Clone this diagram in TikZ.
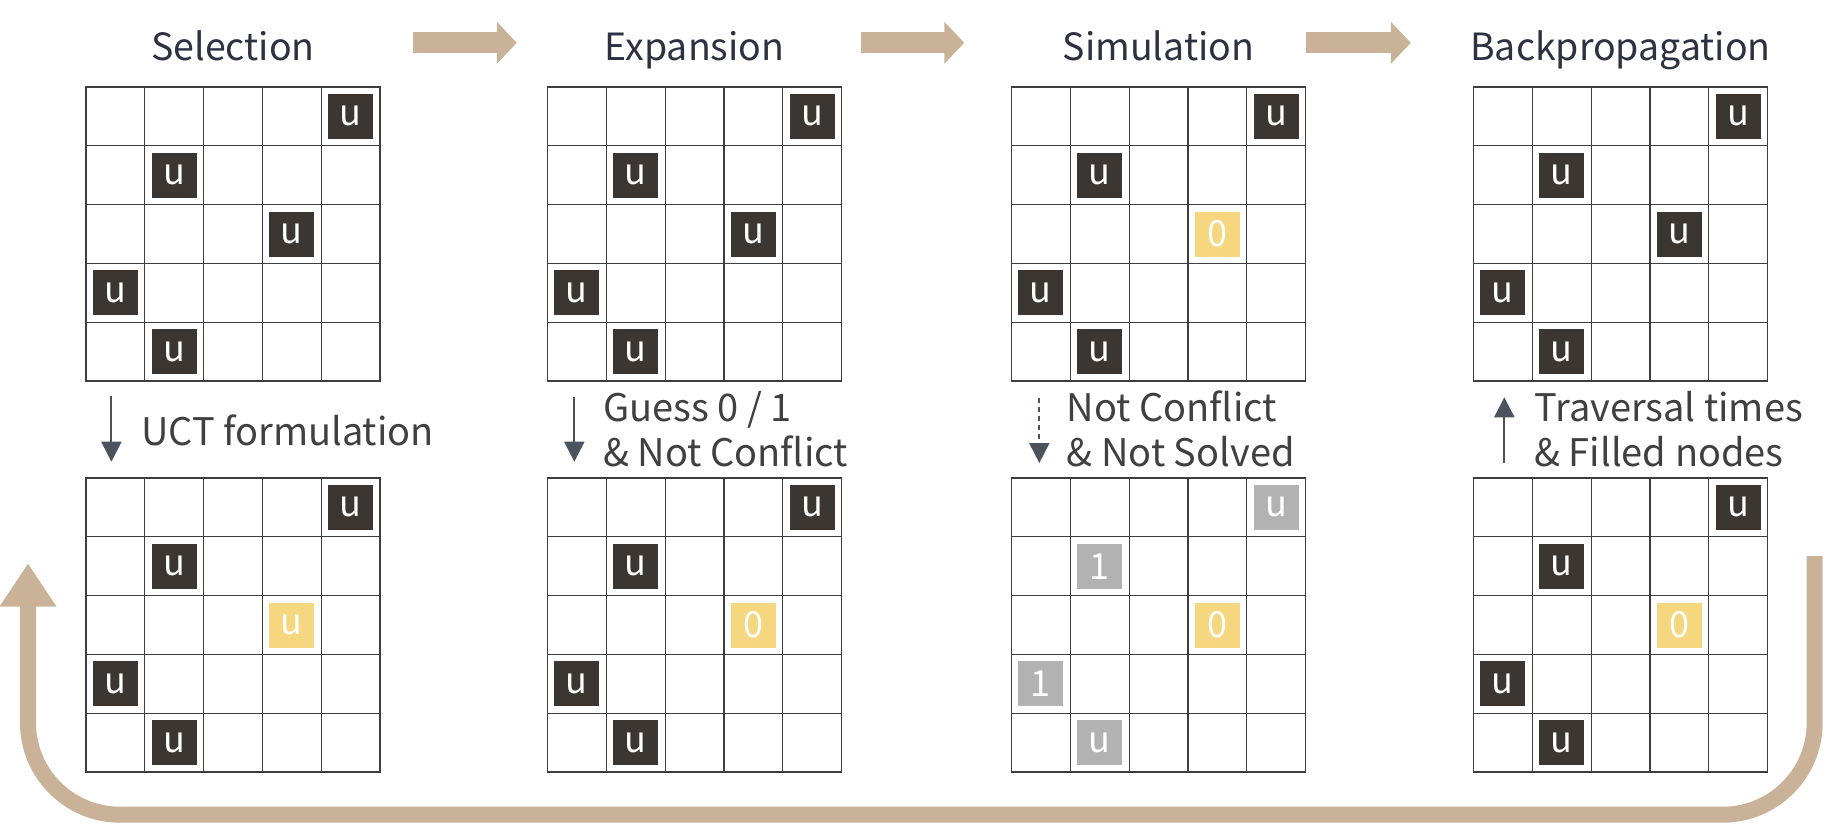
\documentclass[tikz,border=0pt]{standalone}
\usepackage{fontspec}
\setmainfont{Noto Sans CJK SC}
\usetikzlibrary{arrows.meta}

\definecolor{mctstan}{RGB}{201,178,152}
\definecolor{mctsdark}{RGB}{60,54,50}
\definecolor{mctsyellow}{RGB}{246,214,126}
\definecolor{mctsgray}{RGB}{178,178,178}
\definecolor{mctsline}{RGB}{62,62,62}
\definecolor{mctstitle}{RGB}{45,49,66}
\definecolor{mctstext}{RGB}{64,64,64}
\definecolor{mctsarrow}{RGB}{74,83,94}

\tikzset{
  board at/.style={shift={#1}, x=58.8pt, y=-58.8pt},
  cellline/.style={draw=mctsline, line width=1.2pt},
  boardline/.style={draw=mctsline, line width=1.8pt},
  cellbox/.style={minimum size=45pt, inner sep=0pt, text=white, font=\fontsize{36}{36}\selectfont},
  ublock/.style={cellbox, fill=mctsdark},
  newblock/.style={cellbox, fill=mctsyellow},
  simblock/.style={cellbox, fill=mctsgray},
  phasetitle/.style={text=mctstitle, font=\fontsize{37.5}{37.5}\selectfont, anchor=base},
  steplabel/.style={text=mctstext, font=\fontsize{38}{44.3}\selectfont, align=left, anchor=base west, inner sep=0pt},
  phase/.style={draw=mctstan, line width=21pt, -{Triangle[length=20pt,width=41pt]}},
  substep/.style={draw=mctsarrow, line width=2pt, -{Triangle[length=20pt,width=20pt]}},
  returnloop/.style={draw=mctstan, line width=16pt, rounded corners=92pt, -{Triangle[length=43.4pt,width=54pt]}},
}

\newcommand{\boardgrid}{%
  \foreach \k in {1,...,4} {
    \draw[cellline] (\k,0) -- (\k,5);
    \draw[cellline] (0,\k) -- (5,\k);
  }
  \draw[boardline] (0,0) rectangle (5,5);
}

\begin{document}
\begin{tikzpicture}[x=1pt, y=-1pt]
\useasboundingbox (0,0) rectangle (1842,823);

% phase titles
\node[phasetitle] (selection) at (233,60) {Selection};
\node[phasetitle] (expansion) at (694.5,60) {Expansion};
\node[phasetitle] (simulation) at (1158.5,60) {Simulation};
\node[phasetitle] (backprop) at (1620.5,60) {Backpropagation};

% arrows between the phases
\coordinate (ph1a) at (412.5,42.8);
\coordinate (ph1b) at (516.8,42.8);
\coordinate (ph2a) at (861,42.8);
\coordinate (ph2b) at (964.3,42.8);
\coordinate (ph3a) at (1306,42.8);
\coordinate (ph3b) at (1410.8,42.8);
\draw[phase] (ph1a) -- (ph1b);
\draw[phase] (ph2a) -- (ph2b);
\draw[phase] (ph3a) -- (ph3b);

% selection
\begin{scope}[board at={(86,87)}]
  \boardgrid
  \node[ublock] (sa1) at (4.5,0.5) {u};
  \node[ublock] (sa2) at (1.5,1.5) {u};
  \node[ublock] (sa3) at (3.5,2.5) {u};
  \node[ublock] (sa4) at (0.5,3.5) {u};
  \node[ublock] (sa5) at (1.5,4.5) {u};
\end{scope}
\begin{scope}[board at={(86,478)}]
  \boardgrid
  \node[ublock] (sb1) at (4.5,0.5) {u};
  \node[ublock] (sb2) at (1.5,1.5) {u};
  \node[newblock] (sb3) at (3.5,2.5) {u};
  \node[ublock] (sb4) at (0.5,3.5) {u};
  \node[ublock] (sb5) at (1.5,4.5) {u};
\end{scope}

% expansion
\begin{scope}[board at={(547.5,87)}]
  \boardgrid
  \node[ublock] (ea1) at (4.5,0.5) {u};
  \node[ublock] (ea2) at (1.5,1.5) {u};
  \node[ublock] (ea3) at (3.5,2.5) {u};
  \node[ublock] (ea4) at (0.5,3.5) {u};
  \node[ublock] (ea5) at (1.5,4.5) {u};
\end{scope}
\begin{scope}[board at={(547.5,478)}]
  \boardgrid
  \node[ublock] (eb1) at (4.5,0.5) {u};
  \node[ublock] (eb2) at (1.5,1.5) {u};
  \node[newblock] (eb3) at (3.5,2.5) {0};
  \node[ublock] (eb4) at (0.5,3.5) {u};
  \node[ublock] (eb5) at (1.5,4.5) {u};
\end{scope}

% simulation
\begin{scope}[board at={(1011.5,87)}]
  \boardgrid
  \node[ublock] (ma1) at (4.5,0.5) {u};
  \node[ublock] (ma2) at (1.5,1.5) {u};
  \node[newblock] (ma3) at (3.5,2.5) {0};
  \node[ublock] (ma4) at (0.5,3.5) {u};
  \node[ublock] (ma5) at (1.5,4.5) {u};
\end{scope}
\begin{scope}[board at={(1011.5,478)}]
  \boardgrid
  \node[simblock] (mb1) at (4.5,0.5) {u};
  \node[simblock] (mb2) at (1.5,1.5) {1};
  \node[newblock] (mb3) at (3.5,2.5) {0};
  \node[simblock] (mb4) at (0.5,3.5) {1};
  \node[simblock] (mb5) at (1.5,4.5) {u};
\end{scope}

% backpropagation
\begin{scope}[board at={(1473.5,87)}]
  \boardgrid
  \node[ublock] (ba1) at (4.5,0.5) {u};
  \node[ublock] (ba2) at (1.5,1.5) {u};
  \node[ublock] (ba3) at (3.5,2.5) {u};
  \node[ublock] (ba4) at (0.5,3.5) {u};
  \node[ublock] (ba5) at (1.5,4.5) {u};
\end{scope}
\begin{scope}[board at={(1473.5,478)}]
  \boardgrid
  \node[ublock] (bb1) at (4.5,0.5) {u};
  \node[ublock] (bb2) at (1.5,1.5) {u};
  \node[newblock] (bb3) at (3.5,2.5) {0};
  \node[ublock] (bb4) at (0.5,3.5) {u};
  \node[ublock] (bb5) at (1.5,4.5) {u};
\end{scope}

% steps between the two rows
\coordinate (st1a) at (111.4,396);
\coordinate (st1b) at (111.4,461.7);
\coordinate (st2a) at (574.3,396.7);
\coordinate (st2b) at (574.3,461.7);
\coordinate (st3a) at (1039.3,398);
\coordinate (st3b) at (1039.3,463);
\coordinate (st4a) at (1504.3,463.3);
\coordinate (st4b) at (1504.3,397.3);
\draw[substep] (st1a) -- (st1b);
\draw[substep] (st2a) -- (st2b);
\draw[substep, dash pattern=on 5pt off 4pt] (st3a) -- (st3b);
\draw[substep] (st4a) -- (st4b);

% base anchor of a two-line label sits on its last line
\node[steplabel] (uct) at (141,445) {UCT formulation};
\node[steplabel] (guess) at (603.3,466) {Guess 0 / 1\\\& Not Conflict};
\node[steplabel] (rollout) at (1066.7,466) {Not Conflict\\\& Not Solved};
\node[steplabel] (update) at (1534.3,466) {Traversal times\\\& Filled nodes};

% back to selection
\coordinate (lp1) at (1814.7,556);
\coordinate (lp2) at (1814.7,814.7);
\coordinate (lp3) at (28,814.7);
\coordinate (lp4) at (28,563.3);
\draw[returnloop] (lp1) -- (lp2) -- (lp3) -- (lp4);

\end{tikzpicture}
\end{document}
